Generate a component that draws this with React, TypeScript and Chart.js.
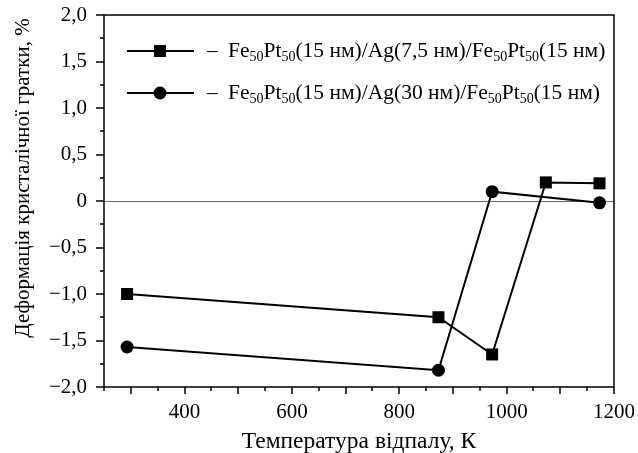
import React, { useEffect, useRef } from 'react';
import { Chart, registerables } from 'chart.js';

Chart.register(...registerables);

// ---- data ----
const tempsAg7 = [293, 873, 973, 1073, 1173];
const strainAg7 = [-1.0, -1.25, -1.65, 0.2, 0.19];
const tempsAg30 = [293, 873, 973, 1173];
const strainAg30 = [-1.57, -1.82, 0.1, -0.02];
const seriesLabels = [
  'Fe_{50}Pt_{50}(15 нм)/Ag(7,5 нм)/Fe_{50}Pt_{50}(15 нм)',
  'Fe_{50}Pt_{50}(15 нм)/Ag(30 нм)/Fe_{50}Pt_{50}(15 нм)',
];
const seriesMarkers = ['rect', 'circle'];
const xTickLabels = [400, 600, 800, 1000, 1200];
const yTickLabels = [2, 1.5, 1, 0.5, 0, -0.5, -1, -1.5, -2];
const xTitle = 'Температура відпалу, К';
const yTitle = 'Деформація кристалічної гратки, %';

const SERIF = '"Liberation Serif", "Times New Roman", serif';

function fmtY(v: number): string {
  if (v === 0) return '0';
  const s = Math.abs(v).toFixed(1).replace('.', ',');
  return v < 0 ? '\u2212' + s : s;
}

function drawRich(ctx: CanvasRenderingContext2D, text: string, x: number, y: number, size: number) {
  const parts = text.split(/(_\{[^}]*\})/);
  let cx = x;
  for (const p of parts) {
    if (!p) continue;
    const m = p.match(/^_\{([^}]*)\}$/);
    if (m) {
      ctx.font = `${Math.round(size * 0.66)}px ${SERIF}`;
      ctx.fillText(m[1], cx, y + 4);
      cx += ctx.measureText(m[1]).width;
    } else {
      ctx.font = `${size}px ${SERIF}`;
      ctx.fillText(p, cx, y);
      cx += ctx.measureText(p).width;
    }
  }
}

function drawMarker(ctx: CanvasRenderingContext2D, style: string, x: number, y: number) {
  ctx.beginPath();
  if (style === 'rect') {
    ctx.rect(x - 6, y - 6, 12, 12);
  } else {
    ctx.arc(x, y, 6.5, 0, Math.PI * 2);
  }
  ctx.fill();
}

const decorPlugin = {
  id: 'decor',
  beforeDatasetsDraw(chart: any) {
    const { ctx, chartArea: a, scales } = chart;
    const y0 = Math.round(scales.y.getPixelForValue(0)) + 0.5;
    ctx.save();
    ctx.strokeStyle = '#6a6a6a';
    ctx.lineWidth = 1;
    ctx.beginPath();
    ctx.moveTo(a.left, y0);
    ctx.lineTo(a.right, y0);
    ctx.stroke();
    ctx.restore();
  },
  afterDraw(chart: any) {
    const { ctx, chartArea: a, scales } = chart;
    const x = scales.x;
    const y = scales.y;
    ctx.save();
    ctx.strokeStyle = '#000';
    ctx.fillStyle = '#000';
    // frame
    ctx.lineWidth = 1.5;
    ctx.strokeRect(a.left, a.top, a.right - a.left, a.bottom - a.top);
    // ticks
    ctx.lineWidth = 1.5;
    ctx.beginPath();
    x.ticks.forEach((t: any) => {
      const px = Math.round(x.getPixelForValue(t.value));
      const len = t.value % 100 === 0 ? 7 : 4;
      ctx.moveTo(px, a.bottom);
      ctx.lineTo(px, a.bottom + len);
    });
    y.ticks.forEach((t: any) => {
      const py = Math.round(y.getPixelForValue(t.value));
      const len = Math.abs((t.value * 2) % 1) < 1e-9 ? 8 : 4;
      ctx.moveTo(a.left - len, py);
      ctx.lineTo(a.left, py);
    });
    ctx.stroke();

    // axis titles
    ctx.textAlign = 'center';
    ctx.textBaseline = 'alphabetic';
    ctx.font = `23.5px ${SERIF}`;
    ctx.fillText(xTitle, (a.left + a.right) / 2, 448);
    ctx.save();
    ctx.font = `21px ${SERIF}`;
    ctx.translate(29, 178);
    ctx.rotate(-Math.PI / 2);
    ctx.fillText(yTitle, 0, 0);
    ctx.restore();

    // legend
    ctx.textAlign = 'left';
    const rows = [51, 93];
    seriesLabels.forEach((label, i) => {
      const ly = rows[i];
      ctx.lineWidth = 2;
      ctx.beginPath();
      ctx.moveTo(127, ly);
      ctx.lineTo(194, ly);
      ctx.stroke();
      drawMarker(ctx, seriesMarkers[i], 160, ly);
      ctx.font = `21.5px ${SERIF}`;
      ctx.fillText('\u2013', 207, ly + 6);
      drawRich(ctx, label, 228, ly + 6, 21.5);
    });
    ctx.restore();
  },
};

export default function App() {
  const ref = useRef<HTMLCanvasElement | null>(null);
  useEffect(() => {
    if (!ref.current) return;
    const chart = new Chart(ref.current, {
      type: 'scatter',
      data: {
        datasets: [
          {
            label: seriesLabels[0],
            data: tempsAg7.map((t, i) => ({ x: t, y: strainAg7[i] })),
            showLine: true,
            borderColor: '#000',
            backgroundColor: '#000',
            borderWidth: 2,
            pointStyle: 'rect',
            pointRadius: 8.5,
            pointBorderWidth: 0,
            pointBackgroundColor: '#000',
          },
          {
            label: seriesLabels[1],
            data: tempsAg30.map((t, i) => ({ x: t, y: strainAg30[i] })),
            showLine: true,
            borderColor: '#000',
            backgroundColor: '#000',
            borderWidth: 2,
            pointStyle: 'circle',
            pointRadius: 6.5,
            pointBorderWidth: 0,
            pointBackgroundColor: '#000',
          },
        ],
      },
      options: {
        responsive: false,
        animation: false,
        layout: { padding: { top: 15, right: 24, left: 0, bottom: 0 } },
        plugins: { legend: { display: false }, tooltip: { enabled: false } },
        scales: {
          x: {
            type: 'linear',
            min: 250,
            max: 1200,
            afterFit: (s: any) => {
              s.height = 66;
              s.paddingLeft = 0;
              s.paddingRight = 0;
              s.paddingTop = 0;
              s.paddingBottom = 0;
            },
            grid: { display: true, drawOnChartArea: false, drawTicks: true, tickLength: 8, color: 'rgba(0,0,0,0)' },
            border: { display: false },
            ticks: {
              stepSize: 50,
              autoSkip: false,
              maxRotation: 0,
              padding: 5,
              color: '#000',
              font: { family: SERIF, size: 21 },
              callback: (v: any) => (xTickLabels.includes(Number(v)) ? String(v) : ''),
            },
          },
          y: {
            type: 'linear',
            min: -2,
            max: 2,
            afterFit: (s: any) => {
              s.width = 104;
              s.paddingLeft = 0;
              s.paddingRight = 0;
              s.paddingTop = 0;
              s.paddingBottom = 0;
            },
            grid: { display: true, drawOnChartArea: false, drawTicks: true, tickLength: 8, color: 'rgba(0,0,0,0)' },
            border: { display: false },
            ticks: {
              stepSize: 0.25,
              autoSkip: false,
              padding: 9,
              color: '#000',
              font: { family: SERIF, size: 21 },
              callback: (v: any) => {
                const n = Number(v);
                const hit = yTickLabels.find((t) => Math.abs(t - n) < 1e-9);
                return hit !== undefined ? fmtY(hit) : '';
              },
            },
          },
        },
      },
      plugins: [decorPlugin],
    } as any);
    return () => chart.destroy();
  }, []);
  return (
    <div style={{ position: 'absolute', left: 0, top: 0, width: 638, height: 453, background: '#fff' }}>
      <canvas ref={ref} width={638} height={453} style={{ display: 'block' }} />
    </div>
  );
}
